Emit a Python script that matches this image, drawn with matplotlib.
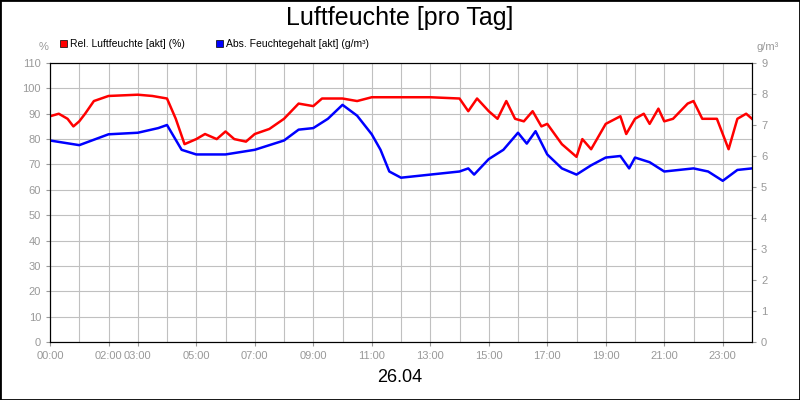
import numpy as np
import matplotlib.pyplot as plt
from matplotlib.patches import Rectangle

plt.rcParams['font.family'] = ['Liberation Sans', 'DejaVu Sans']

# hours since midnight
rel_hours = [0, 0.3, 0.6, 0.8, 1.0, 1.2, 1.5, 2, 3, 3.5, 4, 4.3, 4.6, 5, 5.3, 5.7, 6, 6.3, 6.7, 7,
             7.5, 8, 8.5, 9, 9.3, 10, 10.5, 11, 12, 13, 14, 14.3, 14.6, 15, 15.3, 15.6, 15.9, 16.2,
             16.5, 16.8, 17, 17.5, 18, 18.2, 18.5, 19, 19.5, 19.7, 20, 20.3, 20.5, 20.8, 21, 21.3,
             21.8, 22, 22.3, 22.8, 23, 23.2, 23.5, 23.8, 24]
rel_values = [89, 90, 88, 85, 87, 90, 95, 97, 97.5, 97, 96, 88, 78, 80, 82, 80, 83, 80, 79, 82,
              84, 88, 94, 93, 96, 96, 95, 96.5, 96.5, 96.5, 96, 91, 96, 91, 88, 95, 88, 87,
              91, 85, 86, 78, 73, 80, 76, 86, 89, 82, 88, 90, 86, 92, 87, 88,
              94, 95, 88, 88, 82, 76, 88, 90, 88]

abs_hours = [0, 1, 2, 3, 3.7, 4.0, 4.5, 5, 6, 7, 8, 8.5, 9, 9.5, 10, 10.5, 11, 11.3, 11.6, 12,
             13, 14, 14.3, 14.5, 15, 15.5, 16, 16.3, 16.6, 17, 17.5, 18, 18.5, 19, 19.5, 19.8,
             20, 20.5, 21, 22, 22.5, 23, 23.5, 24]
abs_values = [6.5, 6.35, 6.7, 6.75, 6.9, 7.0, 6.2, 6.05, 6.05, 6.2, 6.5, 6.85, 6.9, 7.2, 7.65,
              7.3, 6.7, 6.2, 5.5, 5.3, 5.4, 5.5, 5.6, 5.4, 5.9, 6.2, 6.75, 6.4, 6.8, 6.05, 5.6,
              5.4, 5.7, 5.95, 6.0, 5.6, 5.95, 5.8, 5.5, 5.6, 5.5, 5.2, 5.55, 5.6]

tick_hours = [0, 2, 3, 5, 7, 9, 11, 13, 15, 17, 19, 21, 23]
tick_labels = ["00:00", "02:00", "03:00", "05:00", "07:00", "09:00", "11:00",
               "13:00", "15:00", "17:00", "19:00", "21:00", "23:00"]

fig = plt.figure(figsize=(8, 4), dpi=100)
fig.patches.append(Rectangle((0, 0), 1, 1, transform=fig.transFigure, fill=False,
                             edgecolor='black', linewidth=2))
ax = fig.add_axes([0.0625, 0.145, 0.8775, 0.6975])
ax2 = ax.twinx()

ax.plot(rel_hours, rel_values, color='#ff0000', linewidth=1.8)
ax2.plot(abs_hours, abs_values, color='#0000ff', linewidth=1.8)

ax.set_xlim(0, 24)
ax.set_ylim(0, 110)
ax2.set_ylim(0, 9)
ax.set_yticks(range(0, 111, 10))
ax2.set_yticks(range(0, 10))
ax.set_xticks(range(0, 25), minor=True)
ax.set_xticks(tick_hours)
ax.set_xticklabels(tick_labels)
ax.grid(True, which='both', axis='x', color='#c0c0c0', linewidth=0.8)
ax.grid(True, axis='y', color='#c0c0c0', linewidth=0.8)
ax.set_axisbelow(True)
for a in (ax, ax2):
    a.tick_params(labelsize=8, labelcolor='#999999', color='#999999', length=3)
    a.tick_params(which='minor', length=0)

fig.text(0.5, 0.955, "Luftfeuchte [pro Tag]", ha='center', va='center', fontsize=18)
fig.text(0.5, 0.055, "26.04", ha='center', va='center', fontsize=13)
fig.text(0.055, 0.875, "%", ha='center', fontsize=8, color='#999999')
fig.text(0.96, 0.875, "g/m³", ha='center', fontsize=8, color='#999999')

fig.patches.append(Rectangle((0.075, 0.882), 0.009, 0.018, transform=fig.transFigure,
                             facecolor='#ff0000', edgecolor='black', linewidth=0.5))
fig.text(0.088, 0.89, "Rel. Luftfeuchte [akt] (%)", fontsize=7.5, va='center')
fig.patches.append(Rectangle((0.27, 0.882), 0.009, 0.018, transform=fig.transFigure,
                             facecolor='#0000ff', edgecolor='black', linewidth=0.5))
fig.text(0.283, 0.89, "Abs. Feuchtegehalt [akt] (g/m³)", fontsize=7.5, va='center')

fig.savefig("out.png", dpi=100)
